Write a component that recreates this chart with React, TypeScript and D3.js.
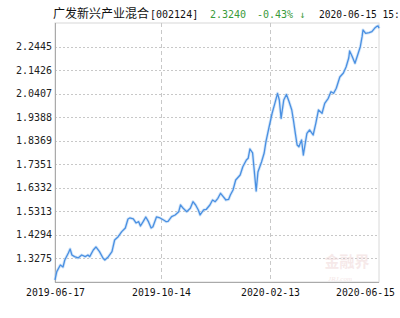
import React from "react";
import * as d3 from "d3";

const dates: string[] = [
  "2019-06-17","2019-06-19","2019-06-23","2019-06-26","2019-06-28","2019-07-02","2019-07-04","2019-07-06",
  "2019-07-09","2019-07-13","2019-07-17","2019-07-21","2019-07-24","2019-07-26","2019-07-30","2019-08-02",
  "2019-08-06","2019-08-10","2019-08-12","2019-08-16","2019-08-20","2019-08-23","2019-08-27","2019-08-31",
  "2019-09-04","2019-09-07","2019-09-09","2019-09-13","2019-09-16","2019-09-19","2019-09-21","2019-09-24",
  "2019-09-27","2019-09-30","2019-10-03","2019-10-05","2019-10-09","2019-10-13","2019-10-17","2019-10-20",
  "2019-10-22","2019-10-26","2019-10-30","2019-11-03","2019-11-05","2019-11-08","2019-11-12","2019-11-16",
  "2019-11-19","2019-11-22","2019-11-25","2019-11-27","2019-12-01","2019-12-04","2019-12-08","2019-12-11",
  "2019-12-14","2019-12-17","2019-12-20","2019-12-23","2019-12-26","2019-12-29","2019-12-31","2020-01-03",
  "2020-01-06","2020-01-11","2020-01-14","2020-01-18","2020-01-20","2020-01-22","2020-01-25","2020-01-29",
  "2020-01-31","2020-02-04","2020-02-07","2020-02-09","2020-02-13","2020-02-16","2020-02-19","2020-02-22",
  "2020-02-24","2020-02-26","2020-02-29","2020-03-03","2020-03-06","2020-03-09","2020-03-11","2020-03-13",
  "2020-03-15","2020-03-17","2020-03-20","2020-03-22","2020-03-26","2020-03-29","2020-04-02","2020-04-05",
  "2020-04-08","2020-04-12","2020-04-15","2020-04-19","2020-04-22","2020-04-25","2020-04-28","2020-05-02",
  "2020-05-06","2020-05-09","2020-05-12","2020-05-13","2020-05-16","2020-05-19","2020-05-22","2020-05-25",
  "2020-05-27","2020-05-28","2020-05-31","2020-06-04","2020-06-07","2020-06-10","2020-06-12","2020-06-14",
  "2020-06-15",
];

const navValues: number[] = [
  1.2344,1.2703,1.2993,1.2906,1.3209,1.3512,1.3685,1.3425,
  1.3352,1.3296,1.3425,1.3352,1.3425,1.3352,1.3642,1.3772,
  1.3568,1.3283,1.3209,1.3352,1.3568,1.4074,1.4217,1.4434,
  1.4594,1.4983,1.5026,1.4983,1.4810,1.4866,1.4680,1.4866,
  1.5070,1.4866,1.4594,1.4650,1.5070,1.5026,1.4940,1.4866,
  1.4880,1.5083,1.5156,1.5299,1.5589,1.5446,1.5299,1.5446,
  1.5732,1.5589,1.5373,1.5156,1.5373,1.5403,1.5589,1.5805,
  1.5732,1.5879,1.6095,1.5948,1.5805,1.5830,1.6022,1.6238,
  1.6671,1.6887,1.7246,1.7536,1.7610,1.8012,1.7839,1.6195,
  1.7017,1.7449,1.7839,1.8328,1.9050,1.9570,1.9989,2.0422,
  2.0132,1.9340,2.0132,2.0370,2.0059,1.9700,1.9224,1.8691,
  1.8185,1.8111,1.8401,1.7752,1.8691,1.8834,1.8618,1.9124,
  1.9700,1.9557,1.9989,2.0206,2.0491,2.0422,2.0638,2.1127,
  2.1300,2.1560,2.1950,2.2252,2.2006,2.1720,2.2079,2.2438,
  2.2871,2.3161,2.3018,2.3044,2.3088,2.3235,2.3304,2.3340,
  2.3240,
];

const yTickValues: number[] = [1.3275, 1.4294, 1.5313, 1.6332, 1.7351, 1.8369, 1.9388, 2.0407, 2.1426, 2.2445];
const xTickLabels: string[] = ["2019-06-17", "2019-10-14", "2020-02-13", "2020-06-15"];
const yDomain: number[] = [1.2256, 2.3464];

const titleName = "广发新兴产业混合";
const titleCode = "[002124]";
const lastNav = "2.3240";
const lastChange = "-0.43% ↓";
const lastTime = "2020-06-15 15:";

const W = 400, H = 318;
const L = 55, R = 379, T = 23, B = 282;
const mono = "'DejaVu Sans Mono', 'Liberation Mono', monospace";

export default function App() {
  const parse = d3.timeParse("%Y-%m-%d");
  const pts = dates.map((d, i) => ({ date: parse(d) as Date, v: navValues[i] }));
  const x = d3.scaleTime().domain([parse(dates[0]) as Date, parse(dates[dates.length - 1]) as Date]).range([L, R]);
  const y = d3.scaleLinear().domain(yDomain).range([B, T]);
  const line = d3.line<{ date: Date; v: number }>().x(p => x(p.date)).y(p => y(p.v));
  const path = line(pts) || "";

  return (
    <svg width={W} height={H} style={{ position: "absolute", left: 0, top: 0, background: "#fff" }}>
      <rect x={0} y={0} width={W} height={H} fill="#fff" />
      {/* title */}
      <text x={53} y={18} fontSize={12} fill="#111">
        <tspan fontFamily="'Noto Sans CJK SC', sans-serif">{titleName}</tspan>
        <tspan fontFamily={mono} fontSize={10} dx={1}>{titleCode}</tspan>
      </text>
      <text x={210} y={18} fontSize={10} fontFamily={mono} fill="#3a9a3a">{lastNav}</text>
      <text x={257} y={18} fontSize={10} fontFamily={mono} fill="#3a9a3a">{lastChange}</text>
      <text x={319} y={18} fontSize={9.6} fontFamily={mono} fill="#111">{lastTime}</text>

      {/* frame */}
      <rect x={L} y={T} width={R - L} height={B - T} fill="none" stroke="#d8d8d8" />
      {/* horizontal grid */}
      {yTickValues.map(t => (
        <g key={t}>
          <line x1={L} x2={R} y1={Math.round(y(t)) + 0.5} y2={Math.round(y(t)) + 0.5} stroke="#c8c8c8" strokeDasharray="2,2" />
          <text x={52} y={y(t) + 3.5} textAnchor="end" fontSize={10} fontFamily={mono} fill="#222">{t.toFixed(4)}</text>
        </g>
      ))}
      {/* vertical grid */}
      {xTickLabels.map((s, i) => {
        const xx = Math.round(x(parse(s) as Date)) + 0.5;
        const last = i === xTickLabels.length - 1;
        return (
          <g key={s}>
            {i > 0 && !last && (
              <line x1={xx} x2={xx} y1={T} y2={B} stroke="#c8c8c8" strokeDasharray="4,3" />
            )}
            <text x={last ? 395 : xx} y={296} textAnchor={last ? "end" : "middle"} fontSize={9.8} fontFamily={mono} fill="#111">{s}</text>
          </g>
        );
      })}
      <line x1={L + 0.5} x2={L + 0.5} y1={T} y2={B} stroke="#aaa" />
      <line x1={L} x2={R} y1={B + 0.5} y2={B + 0.5} stroke="#aaa" />

      {/* watermark */}
      <text x={347} y={267} textAnchor="middle" fontSize={15} fontWeight="bold" fontFamily="'Noto Sans CJK SC', sans-serif" fill="#efd8d8" opacity={0.55}>金融界</text>
      <text x={340} y={281} textAnchor="middle" fontSize={7} fontFamily="serif" fontStyle="italic" fill="#efd8d8" opacity={0.6}>JRJ.com</text>

      {/* series */}
      <path d={path} fill="none" stroke="#a9cdf3" strokeWidth={3} strokeOpacity={0.5} strokeLinejoin="round" />
      <path d={path} fill="none" stroke="#4a90e2" strokeWidth={1.3} strokeLinejoin="round" />
    </svg>
  );
}
